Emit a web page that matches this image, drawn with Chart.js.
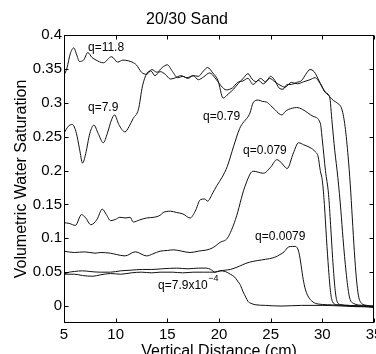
<!DOCTYPE html>
<html>
<head>
<meta charset="utf-8">
<script src="https://cdn.jsdelivr.net/npm/chart.js@4.4.1/dist/chart.umd.min.js"></script>
<style>
  html, body { margin: 0; padding: 0; background: #fff; overflow: hidden; }
  #wrap { width: 376px; height: 361px; }
</style>
</head>
<body>
<div id="wrap"><canvas id="sandChart" width="376" height="361"></canvas></div>
<script>
// distance (cm) and saturation readings, one pair of arrays per flux
const distQ118 = [5.0, 5.3, 5.6, 5.95, 6.2, 6.5, 6.9, 7.3, 7.7, 8.1, 8.8, 9.6, 10.2, 10.7, 11.2, 11.6, 12.0, 12.5, 13.0, 13.5, 14.0, 14.5, 15.0, 15.5, 16.0, 16.5, 17.0, 17.5, 18.0, 18.5, 18.9, 19.4, 19.9, 20.4, 20.9, 21.4, 21.9, 22.4, 22.8, 23.2, 23.6, 24.0, 24.5, 25.0, 25.4, 25.8, 26.2, 26.6, 27.0, 27.5, 28.0, 28.4, 28.8, 29.2, 29.7, 30.2, 30.7, 31.1, 31.4, 31.9, 32.2, 32.5, 32.7, 32.9, 33.1, 33.3, 33.5, 33.8, 34.3, 35.0];
const satQ118 = [0.340, 0.352, 0.372, 0.381, 0.372, 0.361, 0.363, 0.374, 0.367, 0.363, 0.359, 0.368, 0.360, 0.363, 0.362, 0.360, 0.356, 0.345, 0.342, 0.349, 0.345, 0.352, 0.356, 0.346, 0.337, 0.339, 0.336, 0.340, 0.339, 0.347, 0.352, 0.344, 0.333, 0.307, 0.313, 0.320, 0.329, 0.337, 0.343, 0.335, 0.331, 0.336, 0.331, 0.339, 0.333, 0.322, 0.320, 0.327, 0.327, 0.330, 0.333, 0.342, 0.349, 0.346, 0.332, 0.318, 0.309, 0.303, 0.300, 0.290, 0.265, 0.220, 0.180, 0.130, 0.080, 0.040, 0.015, 0.004, 0.001, -0.002];

const distQ79 = [5.0, 5.4, 5.8, 6.2, 6.5, 6.8, 7.1, 7.5, 7.9, 8.3, 8.8, 9.2, 9.6, 9.9, 10.3, 10.9, 11.3, 11.7, 12.2, 12.6, 13.0, 13.4, 13.8, 14.3, 14.8, 15.3, 15.8, 16.3, 16.9, 17.5, 18.0, 18.5, 19.1, 19.6, 20.2, 20.7, 21.3, 21.8, 22.3, 22.8, 23.3, 23.8, 24.3, 24.9, 25.4, 25.9, 26.4, 27.0, 27.6, 28.2, 28.8, 29.3, 29.8, 30.3, 30.7, 30.95, 31.2, 31.5, 31.8, 32.0, 32.3, 32.6, 33.0, 34.0, 35.0];
const satQ79 = [0.255, 0.265, 0.268, 0.255, 0.232, 0.211, 0.225, 0.255, 0.267, 0.255, 0.241, 0.255, 0.275, 0.282, 0.268, 0.257, 0.265, 0.277, 0.290, 0.325, 0.343, 0.347, 0.340, 0.346, 0.342, 0.335, 0.337, 0.340, 0.337, 0.340, 0.334, 0.338, 0.344, 0.337, 0.325, 0.319, 0.322, 0.330, 0.332, 0.336, 0.327, 0.333, 0.328, 0.336, 0.331, 0.326, 0.323, 0.330, 0.328, 0.331, 0.334, 0.337, 0.328, 0.315, 0.309, 0.270, 0.230, 0.190, 0.140, 0.100, 0.050, 0.015, 0.004, 0.001, 0.000];

const distQ079 = [5.0, 5.5, 6.1, 6.7, 7.1, 7.6, 8.2, 8.7, 9.1, 9.5, 10.0, 10.4, 11.0, 11.4, 11.7, 12.3, 13.0, 13.7, 14.3, 14.6, 15.3, 15.9, 16.5, 17.2, 17.7, 18.2, 18.6, 18.9, 19.4, 19.8, 20.3, 20.8, 21.4, 22.0, 22.4, 22.7, 23.0, 23.3, 23.8, 24.2, 24.6, 25.0, 25.4, 25.8, 26.1, 26.4, 26.7, 27.1, 27.5, 28.1, 28.6, 29.1, 29.8, 30.0, 30.3, 30.6, 30.8, 31.0, 31.2, 31.4, 31.8, 32.5, 33.5, 35.0];
const satQ079 = [0.123, 0.122, 0.119, 0.135, 0.130, 0.120, 0.128, 0.143, 0.135, 0.126, 0.128, 0.131, 0.130, 0.131, 0.124, 0.127, 0.130, 0.131, 0.134, 0.138, 0.140, 0.138, 0.136, 0.130, 0.140, 0.157, 0.158, 0.155, 0.167, 0.178, 0.190, 0.206, 0.235, 0.262, 0.272, 0.277, 0.285, 0.300, 0.304, 0.302, 0.301, 0.296, 0.290, 0.284, 0.282, 0.287, 0.290, 0.292, 0.293, 0.290, 0.285, 0.280, 0.270, 0.245, 0.200, 0.165, 0.120, 0.070, 0.030, 0.008, 0.002, 0.001, 0.000, -0.001];

const distQ0079 = [5.0, 6.0, 7.0, 8.0, 8.5, 9.5, 10.1, 10.9, 11.9, 13.0, 13.6, 14.3, 15.0, 15.6, 16.4, 17.2, 18.0, 19.1, 19.6, 20.1, 20.8, 21.6, 22.5, 23.3, 24.3, 25.0, 25.6, 26.0, 26.6, 27.2, 27.7, 28.2, 28.8, 29.3, 29.6, 29.8, 30.0, 30.2, 30.4, 30.6, 30.8, 31.0, 31.4, 32.5, 34.0, 35.0];
const satQ0079 = [0.081, 0.079, 0.080, 0.078, 0.079, 0.078, 0.076, 0.074, 0.080, 0.074, 0.077, 0.081, 0.082, 0.083, 0.081, 0.079, 0.081, 0.084, 0.088, 0.094, 0.100, 0.128, 0.176, 0.199, 0.196, 0.205, 0.216, 0.212, 0.203, 0.226, 0.241, 0.238, 0.234, 0.228, 0.220, 0.200, 0.185, 0.150, 0.100, 0.055, 0.020, 0.006, 0.002, 0.001, 0.000, -0.001];

const distQ00079 = [5.0, 6.0, 6.8, 7.8, 8.5, 9.5, 10.5, 11.5, 12.5, 13.5, 14.3, 15.5, 16.5, 17.5, 18.5, 19.1, 19.6, 20.1, 20.6, 21.1, 22.0, 22.6, 23.3, 24.1, 24.9, 25.4, 25.9, 26.3, 26.7, 27.1, 27.4, 27.7, 27.9, 28.1, 28.3, 28.6, 29.1, 29.6, 30.5, 32.0, 33.0, 34.0, 35.0];
const satQ00079 = [0.047, 0.047, 0.045, 0.044, 0.046, 0.048, 0.047, 0.049, 0.050, 0.049, 0.050, 0.050, 0.049, 0.050, 0.050, 0.050, 0.050, 0.052, 0.053, 0.054, 0.059, 0.063, 0.066, 0.068, 0.070, 0.072, 0.076, 0.080, 0.087, 0.088, 0.088, 0.081, 0.065, 0.044, 0.028, 0.015, 0.006, 0.003, 0.002, 0.001, 0.000, -0.001, -0.002];

const distQ79e4 = [5.0, 5.5, 6.0, 6.8, 7.5, 8.5, 9.5, 10.5, 11.5, 12.6, 13.5, 14.5, 15.9, 17.0, 18.0, 18.8, 19.2, 19.6, 20.1, 20.6, 21.1, 21.5, 21.8, 22.1, 22.3, 22.6, 22.8, 23.1, 23.5, 24.5, 26.0, 28.0, 30.0, 32.0, 33.5, 35.0];
const satQ79e4 = [0.047, 0.050, 0.051, 0.052, 0.051, 0.050, 0.050, 0.052, 0.053, 0.054, 0.054, 0.055, 0.056, 0.055, 0.056, 0.056, 0.054, 0.050, 0.052, 0.051, 0.047, 0.043, 0.037, 0.030, 0.022, 0.013, 0.007, 0.004, 0.002, 0.001, 0.000, 0.001, 0.001, 0.000, -0.001, 0.000];

const satTicks = [0, 0.05, 0.1, 0.15, 0.2, 0.25, 0.3, 0.35, 0.4];
const satTickLabels = ["0", "0.05", "0.1", "0.15", "0.2", "0.25", "0.3", "0.35", "0.4"];

// curve labels, anchored in data units (left edge, middle)
const noteTexts = ["q=11.8", "q=7.9", "q=0.79", "q=0.079", "q=0.0079", "q=7.9x10"];
const noteDist = [7.32, 7.32, 18.46, 22.33, 23.49, 14.10];
const noteSat = [0.382, 0.292, 0.279, 0.229, 0.102, 0.030];

Chart.defaults.font.family = "'Liberation Sans', Arial, sans-serif";
Chart.defaults.color = "#000";

const toPoints = (xs, ys) => xs.map((x, i) => ({ x: x, y: ys[i] }));

const series = [
  { label: "q=11.8", xs: distQ118, ys: satQ118 },
  { label: "q=7.9", xs: distQ79, ys: satQ79 },
  { label: "q=0.79", xs: distQ079, ys: satQ079 },
  { label: "q=0.079", xs: distQ0079, ys: satQ0079 },
  { label: "q=0.0079", xs: distQ00079, ys: satQ00079 },
  { label: "q=7.9x10^-4", xs: distQ79e4, ys: satQ79e4 },
];

// box round the plot with matlab style inward ticks
const framePlugin = {
  id: "frame",
  afterDatasetsDraw(chart) {
    const { ctx, chartArea: a, scales } = chart;
    const x = scales.x, y = scales.y;
    const tl = 4;
    ctx.save();
    ctx.strokeStyle = "#000";
    ctx.lineWidth = 1;
    const L = Math.round(a.left) + 0.5, R = Math.round(a.right) - 0.5;
    const T = Math.round(a.top) + 0.5, B = Math.round(a.bottom) - 0.5;
    ctx.strokeRect(L, T, R - L, B - T);
    ctx.beginPath();
    x.ticks.forEach((t) => {
      const px = Math.round(x.getPixelForValue(t.value)) + 0.5;
      ctx.moveTo(px, B); ctx.lineTo(px, B - tl);
      ctx.moveTo(px, T); ctx.lineTo(px, T + tl);
    });
    y.ticks.forEach((t) => {
      const py = Math.round(y.getPixelForValue(t.value)) + 0.5;
      ctx.moveTo(L, py); ctx.lineTo(L + tl, py);
      ctx.moveTo(R, py); ctx.lineTo(R - tl, py);
    });
    ctx.stroke();

    // curve labels
    ctx.fillStyle = "#000";
    ctx.textBaseline = "middle";
    ctx.textAlign = "left";
    ctx.font = "12px 'Liberation Sans', Arial, sans-serif";
    noteTexts.forEach((txt, i) => {
      const px = x.getPixelForValue(noteDist[i]);
      const py = y.getPixelForValue(noteSat[i]);
      ctx.fillText(txt, px, py);
      if (i === noteTexts.length - 1) {
        const w = ctx.measureText(txt).width;
        ctx.font = "9px 'Liberation Sans', Arial, sans-serif";
        ctx.fillText("\u22124", px + w + 0.5, py - 7);
      }
    });
    ctx.restore();
  },
};

const ctx = document.getElementById("sandChart");

const mychart = new Chart(ctx, {
  type: "line",
  data: {
    datasets: series.map((s) => ({
      label: s.label,
      data: toPoints(s.xs, s.ys),
      borderColor: "#111",
      borderWidth: 1,
      pointRadius: 0,
      fill: false,
      cubicInterpolationMode: "monotone",
    })),
  },
  options: {
    responsive: false,
    animation: false,
    layout: { padding: { left: 0, right: 2, top: 0, bottom: 0 } },
    plugins: {
      legend: { display: false },
      tooltip: { enabled: false },
      title: {
        display: true,
        text: "20/30 Sand",
        color: "#000",
        font: { size: 16, weight: "normal" },
        padding: { top: 10.4, bottom: 5.4 },
      },
    },
    scales: {
      x: {
        type: "linear",
        min: 5,
        max: 35,
        ticks: { stepSize: 5, padding: 3, font: { size: 15 }, maxRotation: 0, autoSkip: false },
        grid: { display: false, drawTicks: false },
        border: { display: false },
        title: { display: true, text: "Vertical Distance (cm)", font: { size: 16 }, padding: 0 },
        afterFit: (s) => {
          s.height = 38;
          s.paddingLeft = 0;
          s.paddingRight = 0;
        },
      },
      y: {
        type: "linear",
        min: -0.025,
        max: 0.4,
        afterBuildTicks: (s) => {
          s.ticks = satTicks.map((v) => ({ value: v }));
        },
        ticks: {
          padding: 2,
          font: { size: 15 },
          callback: (v, i) => satTickLabels[i],
        },
        grid: { display: false, drawTicks: false },
        border: { display: false },
        title: { display: true, text: "Volumetric Water Saturation", font: { size: 16 }, padding: { top: 12, bottom: 0 } },
        afterFit: (s) => {
          s.width = 64;
          s.paddingTop = 0;
          s.paddingBottom = 0;
        },
      },
    },
  },
  plugins: [framePlugin],
});
</script>
</body>
</html>
